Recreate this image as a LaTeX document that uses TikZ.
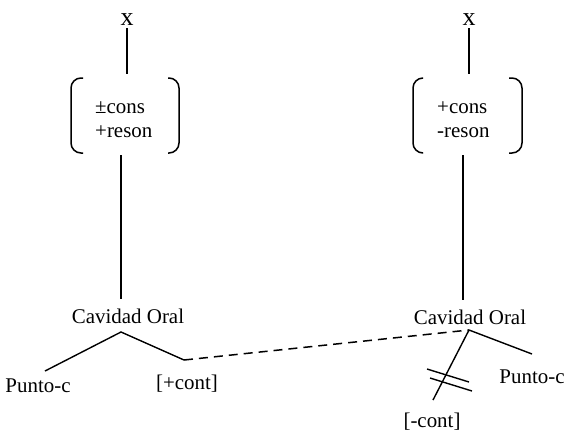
\documentclass[tikz,border=0pt]{standalone}
\usepackage{fontspec}
\setmainfont{Liberation Serif}
\begin{document}
\begin{tikzpicture}[x=1bp,y=-1bp,
  lbl/.style={font=\fontsize{21}{25}\selectfont, inner sep=0pt, anchor=base},
  topx/.style={font=\fontsize{26}{26}\selectfont, inner sep=0pt, anchor=base},
  feat/.style={font=\fontsize{21}{25}\selectfont, inner sep=0pt, align=left, anchor=north west},
  stem/.style={line width=1.3bp},
  branch/.style={line width=1.4bp},
  link/.style={line width=1.5bp, dash pattern=on 9bp off 6bp},
  brk/.style={line width=1.5bp, rounded corners=10bp},
  cut/.style={line width=1.4bp}]
\useasboundingbox (0,0) rectangle (567,431);

% ---- left segment ----
\node[topx] (xL) at (127,25) {x};
\node[feat] (fL) at (95,101) {±cons\\+reson};
\node[lbl] (cL) at (128,323) {Cavidad Oral};
\node[lbl] (pL) at (38,392) {Punto-c};
\node[lbl] (kL) at (187,389) {[+cont]};
\coordinate (xLs) at (127,28);
\coordinate (fLtop) at (127,74);
\coordinate (fLbot) at (121,155);
\coordinate (cLtop) at (121,299);
\coordinate (aL) at (121,332);
\coordinate (pLend) at (45,371);
\coordinate (kLend) at (184,360);
\draw[brk] (83,78) -- (71,78) -- (71,153) -- (83,153);
\draw[brk] (168,78) -- (179,78) -- (179,153) -- (168,153);
\draw[stem] (xLs) -- (fLtop);
\draw[stem] (fLbot) -- (cLtop);
\draw[branch] (pLend) -- (aL) -- (kLend);

% ---- right segment ----
\node[topx] (xR) at (469,25) {x};
\node[feat] (fR) at (437,101) {+cons\\-reson};
\node[lbl] (cR) at (470,324) {Cavidad Oral};
\node[lbl] (pR) at (532,383) {Punto-c};
\node[lbl] (kR) at (432,427) {[-cont]};
\coordinate (xRs) at (469,28);
\coordinate (fRtop) at (469,74);
\coordinate (fRbot) at (463,155);
\coordinate (cRtop) at (463,300);
\coordinate (aR) at (469,330);
\coordinate (pRend) at (532,354);
\coordinate (kRend) at (433,400);
\draw[brk] (423,78) -- (413,78) -- (413,153) -- (423,153);
\draw[brk] (509,78) -- (522,78) -- (522,153) -- (509,153);
\draw[stem] (xRs) -- (fRtop);
\draw[stem] (fRbot) -- (cRtop);
\draw[branch] (kRend) -- (aR) -- (pRend);
% delinking marks across the [-cont] branch
\draw[cut] (427,369) -- (469,382);
\draw[cut] (430,378) -- (472,391);

% ---- spreading link ----
\draw[link] (kLend) -- (aR);
\end{tikzpicture}
\end{document}
